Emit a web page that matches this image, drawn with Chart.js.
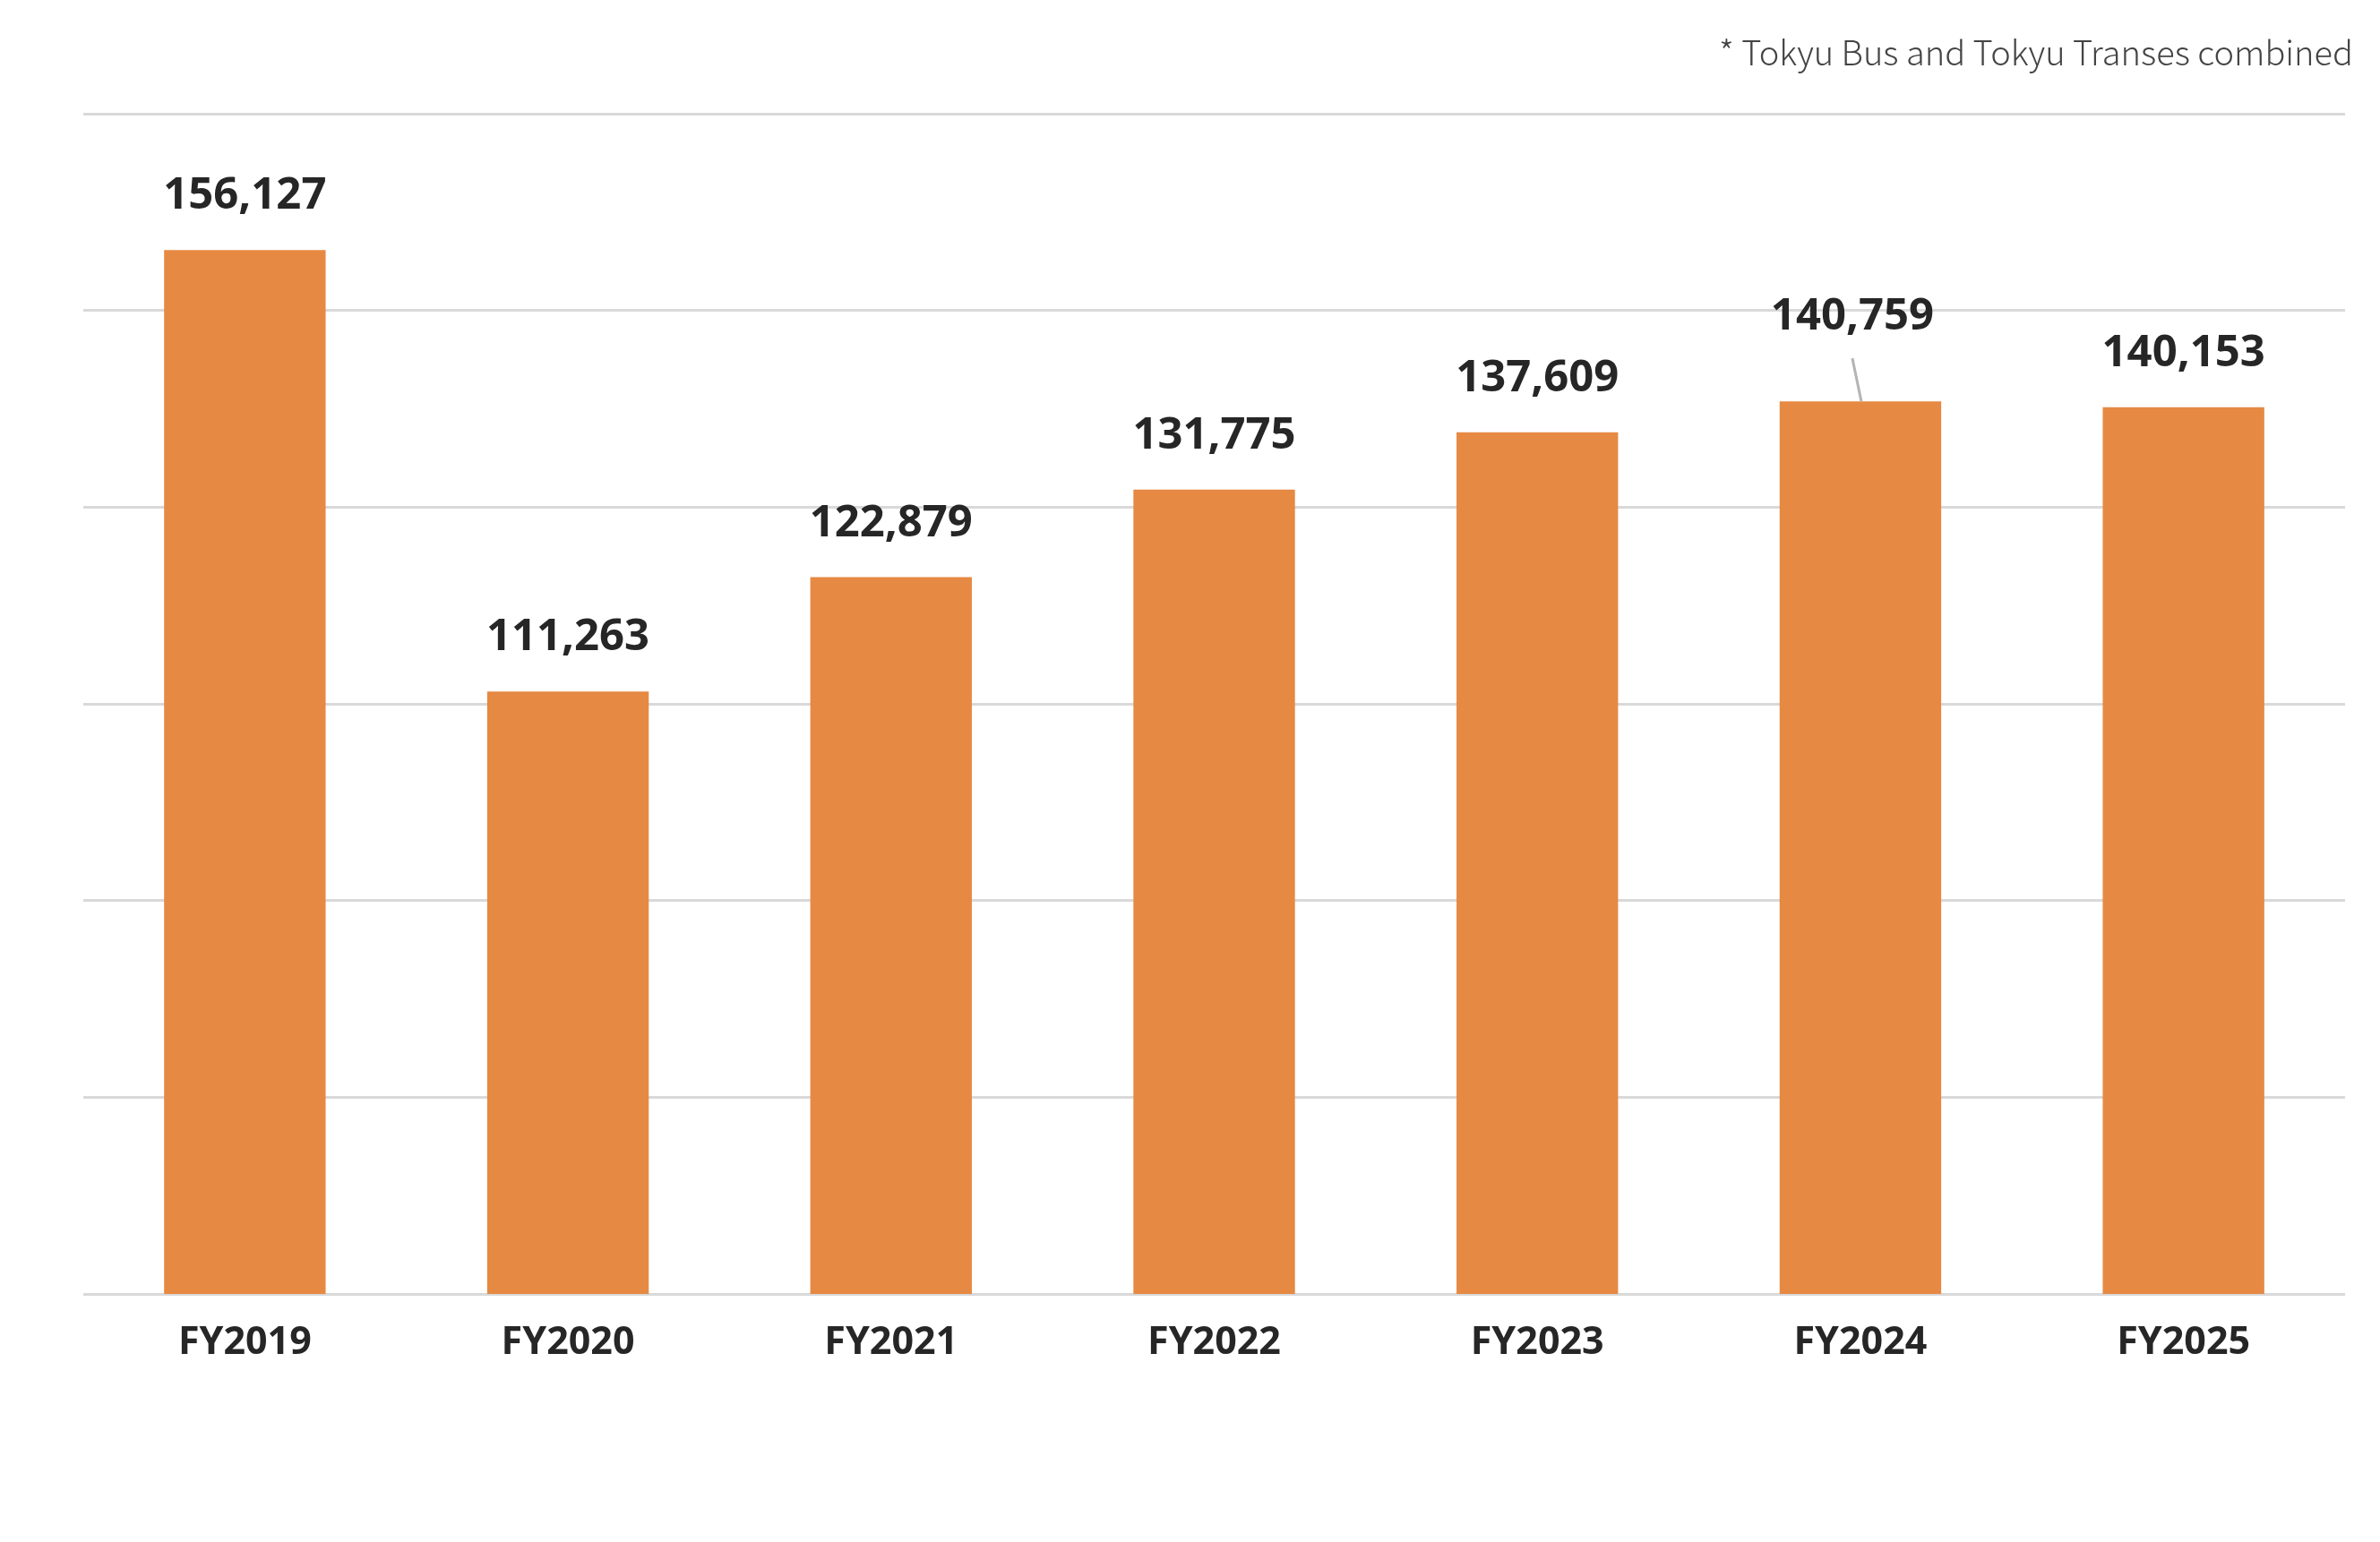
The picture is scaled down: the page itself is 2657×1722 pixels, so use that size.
<!DOCTYPE html>
<html>
<head>
<meta charset="utf-8">
<script src="https://cdn.jsdelivr.net/npm/chart.js@4.4.1/dist/chart.umd.min.js"></script>
<style>
  html, body { margin: 0; padding: 0; background: #fff; }
  canvas { display: block; }
</style>
</head>
<body>
<canvas id="myChart" width="2657" height="1722"></canvas>
<script>
// data
var years = ['FY2019', 'FY2020', 'FY2021', 'FY2022', 'FY2023', 'FY2024', 'FY2025'];
var riders = [156127, 111263, 122879, 131775, 137609, 140759, 140153];
var note = '* Tokyu Bus and Tokyu Transes combined';

var FONT = '"Noto Sans", "Noto Sans CJK JP", sans-serif';
var NOTE_FONT = '"Noto Sans CJK JP", "Noto Sans", sans-serif';

// value labels above bars, FY2024 one lifted with a leader line
var valueLabels = {
    id: 'valueLabels',
    afterDatasetsDraw: function (chart) {
        var c = chart.ctx;
        var meta = chart.getDatasetMeta(0);
        c.save();
        c.font = 'bold 49px ' + FONT;
        c.fillStyle = '#262626';
        c.textAlign = 'center';
        c.textBaseline = 'alphabetic';
        meta.data.forEach(function (bar, i) {
            var txt = riders[i].toLocaleString('en-US');
            if (i === 5) {
                c.fillText(txt, bar.x - 9, bar.y - 80);
                c.strokeStyle = '#b4b4b4';
                c.lineWidth = 3;
                c.beginPath();
                c.moveTo(bar.x - 9, bar.y - 48);
                c.lineTo(bar.x + 1, bar.y);
                c.stroke();
            } else {
                c.fillText(txt, bar.x, bar.y - 46);
            }
        });
        // footnote top right
        c.font = '300 38px ' + NOTE_FONT;
        c.fillStyle = '#444444';
        c.textAlign = 'right';
        c.fillText(note, 2627, 73);
        c.restore();
    }
};

var ctx = document.getElementById('myChart').getContext('2d');

var myChart = new Chart(ctx, {
    type: 'bar',
    data: {
        labels: years,
        datasets: [{
            data: riders,
            backgroundColor: '#E68943',
            borderWidth: 0,
            barPercentage: 0.5,
            categoryPercentage: 1.0
        }]
    },
    options: {
        responsive: false,
        devicePixelRatio: 1,
        animation: false,
        layout: {
            padding: { left: 93, right: 39, top: 127, bottom: 0 }
        },
        plugins: {
            legend: { display: false },
            tooltip: { enabled: false }
        },
        scales: {
            x: {
                grid: { display: false },
                border: { display: false },
                ticks: {
                    color: '#262626',
                    padding: 21,
                    font: { family: FONT, size: 43, weight: 'bold' }
                },
                afterFit: function (scale) { scale.height = 277; }
            },
            y: {
                min: 50000,
                max: 170000,
                ticks: { display: false, stepSize: 20000 },
                grid: { color: '#d9d9d9', lineWidth: 3, drawTicks: false },
                border: { display: false },
                afterFit: function (scale) { scale.width = 0; }
            }
        }
    },
    plugins: [valueLabels]
});
</script>
</body>
</html>
